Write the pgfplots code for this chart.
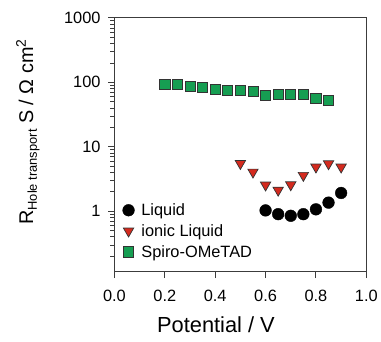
\documentclass[border=0pt]{standalone}
\usepackage{fontspec}
\setmainfont{Liberation Sans}
\usepackage{pgfplots}
\pgfplotsset{compat=1.18}
\definecolor{sgreen}{RGB}{22,158,82}
\definecolor{ired}{RGB}{212,42,30}
\definecolor{axgray}{RGB}{60,60,60}
\begin{document}
\begin{tikzpicture}
\begin{axis}[
  scale only axis, width=253bp, height=255bp,
  ymode=log, xmin=0, xmax=1, ymin=0.115, ymax=1000,
  xtick={0,0.2,0.4,0.6,0.8,1},
  xticklabels={0.0,0.2,0.4,0.6,0.8,1.0},
  ytick={1,10,100,1000}, yticklabels={1,10,100,1000},
  yminorticks=true,
  minor ytick={0.2,0.3,0.4,0.5,0.6,0.7,0.8,0.9,2,3,4,5,6,7,8,9,20,30,40,50,60,70,80,90,200,300,400,500,600,700,800,900},
  xtick align=outside, ytick align=outside,
  xtick pos=bottom, ytick pos=left,
  major tick length=6.5bp, minor tick length=4bp,
  axis line style={line width=1.1bp, draw=axgray},
  every major tick/.append style={line width=1bp, draw=axgray},
  every minor tick/.append style={line width=0.8bp, draw=axgray},
  ticklabel style={font=\fontsize{16.5}{18}\selectfont},
  xticklabel style={yshift=-8bp},
  yticklabel style={xshift=-4bp},
  /pgf/number format/assume math mode=true,
  xlabel={Potential / V},
  xlabel style={font=\fontsize{22}{24}\selectfont, at={(axis description cs:0.403,-0.21)}, anchor=center},
  ylabel={{\fontsize{20}{22}\selectfont R\raisebox{-0.35ex}{\fontsize{13}{15}\selectfont Hole transport} S / Ω cm\textsuperscript{2}}},
  ylabel style={at={(axis description cs:-0.344,0.551)}, anchor=center},
  legend style={at={(axis description cs:0.02,0.285)}, anchor=north west, draw=none, fill=none,
    font=\fontsize{16.5}{18}\selectfont, row sep=3.5bp, column sep=5bp},
  legend cell align=left,
]
\addplot[only marks, mark=*, mark size=5.9bp, mark options={fill=black, draw=black}]
  coordinates {(0.60,1.03)(0.65,0.90)(0.70,0.85)(0.75,0.90)(0.80,1.07)(0.85,1.36)(0.90,1.92)};
\addlegendentry{Liquid}
\addplot[only marks, mark=triangle*, mark size=6bp, mark options={fill=ired, draw=black!80, line width=0.7bp, rotate=180}]
  coordinates {(0.50,5.5)(0.55,4.05)(0.60,2.55)(0.65,2.12)(0.70,2.57)(0.75,3.6)(0.80,4.85)(0.85,5.45)(0.90,4.85)};
\addlegendentry{ionic Liquid}
\addplot[only marks, mark=square*, mark size=5.1bp, mark options={fill=sgreen, draw=black!80, line width=0.8bp}]
  coordinates {(0.20,92)(0.25,92)(0.30,87)(0.35,83)(0.40,77)(0.45,75)(0.50,75)(0.55,72)(0.60,62)(0.65,66)(0.70,66)(0.75,65)(0.80,57)(0.85,53)};
\addlegendentry{Spiro-OMeTAD}
\end{axis}
\path[use as bounding box] ([xshift=-115bp,yshift=-70bp]current axis.south west) rectangle ([xshift=13bp,yshift=18bp]current axis.north east);
\end{tikzpicture}
\end{document}
